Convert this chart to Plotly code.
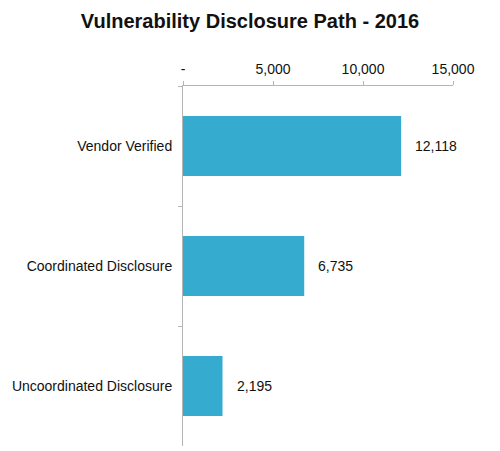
import plotly.graph_objects as go

categories = ["Vendor Verified", "Coordinated Disclosure", "Uncoordinated Disclosure"]
values = [12118, 6735, 2195]
tick_vals = [0, 5000, 10000, 15000]
tick_text = ["-", "5,000", "10,000", "15,000"]

bar_color = "#35abd0"
font_family = "Liberation Sans, Arial, sans-serif"

fig = go.Figure()
fig.add_trace(go.Bar(
    x=values,
    y=categories,
    orientation="h",
    marker=dict(color=bar_color, line=dict(width=0)),
    width=0.5,
    hoverinfo="skip",
))

for c, v in zip(categories, values):
    fig.add_annotation(
        x=v, y=c, xref="x", yref="y",
        text=f"{v:,}", showarrow=False,
        xanchor="left", xshift=12,
        font=dict(family=font_family, size=14, color="#111111"),
    )

fig.update_layout(
    width=500, height=451,
    margin=dict(l=183, r=47, t=86, b=5, pad=0),
    paper_bgcolor="white",
    plot_bgcolor="white",
    showlegend=False,
    font=dict(family=font_family, size=14, color="#111111"),
    title=dict(
        text="<b>Vulnerability Disclosure Path - 2016</b>",
        x=0.5, xref="container", xanchor="center",
        y=1 - 21 / 451, yref="container", yanchor="middle",
        font=dict(family=font_family, size=20, color="#111111"),
    ),
    xaxis=dict(
        side="top",
        range=[0, 15000],
        tickvals=tick_vals,
        ticktext=tick_text,
        showgrid=False,
        zeroline=False,
        showline=True,
        linecolor="#b5b5b5",
        linewidth=1,
        ticks="outside",
        ticklen=4,
        tickcolor="#b5b5b5",
        ticklabelstandoff=1,
        tickfont=dict(size=14, color="#111111"),
    ),
    yaxis=dict(
        categoryorder="array",
        categoryarray=categories,
        autorange="reversed",
        showgrid=False,
        zeroline=False,
        showline=True,
        linecolor="#b5b5b5",
        linewidth=1,
        ticks="outside",
        tickson="boundaries",
        ticklen=4,
        tickcolor="#b5b5b5",
        ticklabelstandoff=7,
        tickfont=dict(size=14, color="#111111"),
    ),
)

fig.write_html("out.html")
